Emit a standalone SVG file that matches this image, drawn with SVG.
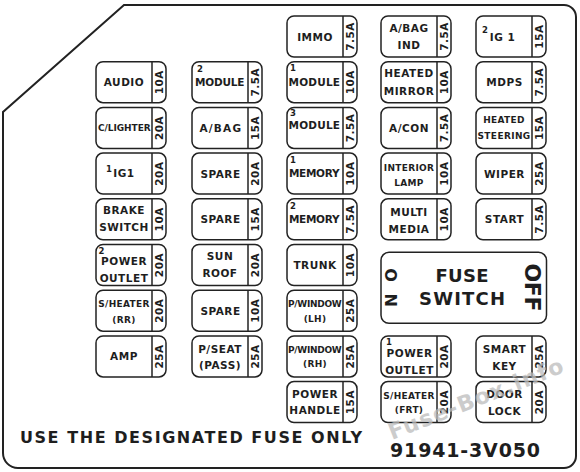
<svg xmlns="http://www.w3.org/2000/svg" width="580" height="472" viewBox="0 0 580 472">
<style>
.box{fill:#fff;stroke:#222;stroke-width:1.5}
.dv{stroke:#222;stroke-width:1.5}
text{font-family:"DejaVu Sans",sans-serif;font-weight:bold;fill:#1e1e1e}
.l{font-size:10.5px;letter-spacing:.5px;text-anchor:middle}
.s{font-size:9px;letter-spacing:.3px;text-anchor:middle}
.n{font-size:8.5px}
.a{font-size:10.5px;letter-spacing:.5px;text-anchor:middle}
</style>
<rect width="580" height="472" fill="#fff"/>
<path d="M124,5 H564 A12,12 0 0 1 576,17 V456 A12,12 0 0 1 564,468 H18 A15,15 0 0 1 3,453 V112 Z" fill="none" stroke="#222" stroke-width="2"/>

<!-- column 1 -->
<g id="f-audio" transform="translate(96,61.7)"><rect class="box" width="70" height="41" rx="7"/><line class="dv" x1="56" y1="0" x2="56" y2="41"/><text class="l" x="28" y="24.5">AUDIO</text><text class="a" transform="translate(63,20.5) rotate(-90)" y="3.8">10A</text></g>
<g id="f-clighter" transform="translate(96,107.4)"><rect class="box" width="70" height="41" rx="7"/><line class="dv" x1="56" y1="0" x2="56" y2="41"/><text class="s" x="28.5" y="24" textLength="53">C/LIGHTER</text><text class="a" transform="translate(63,20.5) rotate(-90)" y="3.8">20A</text></g>
<g id="f-ig1a" transform="translate(96,153.1)"><rect class="box" width="70" height="41" rx="7"/><line class="dv" x1="56" y1="0" x2="56" y2="41"/><text class="n" x="10" y="18.5">1</text><text class="l" x="28" y="23.5">IG1</text><text class="a" transform="translate(63,20.5) rotate(-90)" y="3.8">20A</text></g>
<g id="f-brake" transform="translate(96,198.8)"><rect class="box" width="70" height="41" rx="7"/><line class="dv" x1="56" y1="0" x2="56" y2="41"/><text class="l" x="28" y="15.5">BRAKE</text><text class="l" x="28" y="32.5">SWITCH</text><text class="a" transform="translate(63,20.5) rotate(-90)" y="3.8">10A</text></g>
<g id="f-power2" transform="translate(96,244.5)"><rect class="box" width="70" height="41" rx="7"/><line class="dv" x1="56" y1="0" x2="56" y2="41"/><text class="n" x="2.5" y="9">2</text><text class="l" x="28" y="20.5">POWER</text><text class="l" x="28" y="37">OUTLET</text><text class="a" transform="translate(63,20.5) rotate(-90)" y="3.8">20A</text></g>
<g id="f-sheater-rr" transform="translate(96,290.2)"><rect class="box" width="70" height="41" rx="7"/><line class="dv" x1="56" y1="0" x2="56" y2="41"/><text class="s" x="28" y="16.5">S/HEATER</text><text class="s" x="28" y="33">(RR)</text><text class="a" transform="translate(63,20.5) rotate(-90)" y="3.8">20A</text></g>
<g id="f-amp" transform="translate(96,335.9)"><rect class="box" width="70" height="41" rx="7"/><line class="dv" x1="56" y1="0" x2="56" y2="41"/><text class="l" x="28" y="24.5">AMP</text><text class="a" transform="translate(63,20.5) rotate(-90)" y="3.8">25A</text></g>

<!-- column 2 -->
<g id="f-module2" transform="translate(192,61.7)"><rect class="box" width="70" height="41" rx="7"/><line class="dv" x1="56" y1="0" x2="56" y2="41"/><text class="n" x="5" y="10.5">2</text><text class="l" x="28" y="24.5" textLength="50">MODULE</text><text class="a" transform="translate(63,20.5) rotate(-90)" y="3.8">7.5A</text></g>
<g id="f-abag" transform="translate(192,107.4)"><rect class="box" width="70" height="41" rx="7"/><line class="dv" x1="56" y1="0" x2="56" y2="41"/><text class="l" x="28.5" y="24.5" textLength="42">A/BAG</text><text class="a" transform="translate(63,20.5) rotate(-90)" y="3.8">15A</text></g>
<g id="f-spare1" transform="translate(192,153.1)"><rect class="box" width="70" height="41" rx="7"/><line class="dv" x1="56" y1="0" x2="56" y2="41"/><text class="l" x="28.5" y="24.5">SPARE</text><text class="a" transform="translate(63,20.5) rotate(-90)" y="3.8">20A</text></g>
<g id="f-spare2" transform="translate(192,198.8)"><rect class="box" width="70" height="41" rx="7"/><line class="dv" x1="56" y1="0" x2="56" y2="41"/><text class="l" x="28.5" y="24.5">SPARE</text><text class="a" transform="translate(63,20.5) rotate(-90)" y="3.8">15A</text></g>
<g id="f-sunroof" transform="translate(192,244.5)"><rect class="box" width="70" height="41" rx="7"/><line class="dv" x1="56" y1="0" x2="56" y2="41"/><text class="l" x="28" y="15.5">SUN</text><text class="l" x="28" y="32">ROOF</text><text class="a" transform="translate(63,20.5) rotate(-90)" y="3.8">20A</text></g>
<g id="f-spare3" transform="translate(192,290.2)"><rect class="box" width="70" height="41" rx="7"/><line class="dv" x1="56" y1="0" x2="56" y2="41"/><text class="l" x="28.5" y="25">SPARE</text><text class="a" transform="translate(63,20.5) rotate(-90)" y="3.8">10A</text></g>
<g id="f-pseat" transform="translate(192,335.9)"><rect class="box" width="70" height="41" rx="7"/><line class="dv" x1="56" y1="0" x2="56" y2="41"/><text class="l" x="28" y="16.8">P/SEAT</text><text class="l" x="28" y="33.5">(PASS)</text><text class="a" transform="translate(63,20.5) rotate(-90)" y="3.8">25A</text></g>

<!-- column 3 -->
<g id="f-immo" transform="translate(287,16)"><rect class="box" width="70" height="41" rx="7"/><line class="dv" x1="56" y1="0" x2="56" y2="41"/><text class="l" x="28" y="24.5">IMMO</text><text class="a" transform="translate(63,20.5) rotate(-90)" y="3.8">7.5A</text></g>
<g id="f-module1" transform="translate(287,61.7)"><rect class="box" width="70" height="41" rx="7"/><line class="dv" x1="56" y1="0" x2="56" y2="41"/><text class="n" x="3" y="9">1</text><text class="l" x="27.5" y="24.3" textLength="52">MODULE</text><text class="a" transform="translate(63,20.5) rotate(-90)" y="3.8">10A</text></g>
<g id="f-module3" transform="translate(287,107.4)"><rect class="box" width="70" height="41" rx="7"/><line class="dv" x1="56" y1="0" x2="56" y2="41"/><text class="n" x="3" y="9">3</text><text class="l" x="27.5" y="22" textLength="52">MODULE</text><text class="a" transform="translate(63,20.5) rotate(-90)" y="3.8">7.5A</text></g>
<g id="f-memory1" transform="translate(287,153.1)"><rect class="box" width="70" height="41" rx="7"/><line class="dv" x1="56" y1="0" x2="56" y2="41"/><text class="n" x="3" y="10">1</text><text class="l" x="27.5" y="24.2" textLength="51">MEMORY</text><text class="a" transform="translate(63,20.5) rotate(-90)" y="3.8">10A</text></g>
<g id="f-memory2" transform="translate(287,198.8)"><rect class="box" width="70" height="41" rx="7"/><line class="dv" x1="56" y1="0" x2="56" y2="41"/><text class="n" x="3" y="10.5">2</text><text class="l" x="27.5" y="24.5" textLength="51">MEMORY</text><text class="a" transform="translate(63,20.5) rotate(-90)" y="3.8">7.5A</text></g>
<g id="f-trunk" transform="translate(287,244.5)"><rect class="box" width="70" height="41" rx="7"/><line class="dv" x1="56" y1="0" x2="56" y2="41"/><text class="l" x="28" y="24.8">TRUNK</text><text class="a" transform="translate(63,20.5) rotate(-90)" y="3.8">10A</text></g>
<g id="f-pwindow-lh" transform="translate(287,290.2)"><rect class="box" width="70" height="41" rx="7"/><line class="dv" x1="56" y1="0" x2="56" y2="41"/><text class="s" x="28" y="16.5" textLength="54">P/WINDOW</text><text class="s" x="28" y="31.5">(LH)</text><text class="a" transform="translate(63,20.5) rotate(-90)" y="3.8">25A</text></g>
<g id="f-pwindow-rh" transform="translate(287,335.9)"><rect class="box" width="70" height="41" rx="7"/><line class="dv" x1="56" y1="0" x2="56" y2="41"/><text class="s" x="28" y="16.8" textLength="54">P/WINDOW</text><text class="s" x="28" y="31">(RH)</text><text class="a" transform="translate(63,20.5) rotate(-90)" y="3.8">25A</text></g>
<g id="f-powerhandle" transform="translate(287,381.6)"><rect class="box" width="70" height="41" rx="7"/><line class="dv" x1="56" y1="0" x2="56" y2="41"/><text class="l" x="28" y="16.7">POWER</text><text class="l" x="28" y="32.7">HANDLE</text><text class="a" transform="translate(63,20.5) rotate(-90)" y="3.8">15A</text></g>

<!-- column 4 -->
<g id="f-abagind" transform="translate(381,16)"><rect class="box" width="70" height="41" rx="7"/><line class="dv" x1="56" y1="0" x2="56" y2="41"/><text class="l" x="28" y="15.7">A/BAG</text><text class="l" x="28" y="33.3">IND</text><text class="a" transform="translate(63,20.5) rotate(-90)" y="3.8">7.5A</text></g>
<g id="f-heatedmirror" transform="translate(381,61.7)"><rect class="box" width="70" height="41" rx="7"/><line class="dv" x1="56" y1="0" x2="56" y2="41"/><text class="l" x="28" y="15">HEATED</text><text class="l" x="28" y="33">MIRROR</text><text class="a" transform="translate(63,20.5) rotate(-90)" y="3.8">10A</text></g>
<g id="f-acon" transform="translate(381,107.4)"><rect class="box" width="70" height="41" rx="7"/><line class="dv" x1="56" y1="0" x2="56" y2="41"/><text class="l" x="28" y="24.5">A/CON</text><text class="a" transform="translate(63,20.5) rotate(-90)" y="3.8">7.5A</text></g>
<g id="f-interior" transform="translate(381,153.1)"><rect class="box" width="70" height="41" rx="7"/><line class="dv" x1="56" y1="0" x2="56" y2="41"/><text class="s" x="28" y="17.6">INTERIOR</text><text class="s" x="28" y="33">LAMP</text><text class="a" transform="translate(63,20.5) rotate(-90)" y="3.8">10A</text></g>
<g id="f-multimedia" transform="translate(381,198.8)"><rect class="box" width="70" height="41" rx="7"/><line class="dv" x1="56" y1="0" x2="56" y2="41"/><text class="l" x="28" y="17.2">MULTI</text><text class="l" x="28" y="34.5">MEDIA</text><text class="a" transform="translate(63,20.5) rotate(-90)" y="3.8">10A</text></g>
<g id="fuse-switch" transform="translate(381,252.3)"><rect class="box" width="165.5" height="71" rx="8"/><text style="font-size:18px;text-anchor:middle" x="81" y="29.4" textLength="53">FUSE</text><text style="font-size:18px;text-anchor:middle" x="81" y="52.7" textLength="86">SWITCH</text><text style="font-size:16px;text-anchor:middle" transform="translate(9.7,35.2) rotate(90)" y="5.8" textLength="38.7">ON</text><text style="font-size:22px;text-anchor:middle" transform="translate(152,35.2) rotate(90)" y="8" textLength="48">OFF</text></g>
<g id="f-power1" transform="translate(381,335.9)"><rect class="box" width="70" height="41" rx="7"/><line class="dv" x1="56" y1="0" x2="56" y2="41"/><text class="n" x="5" y="9">1</text><text class="l" x="28.5" y="21.4">POWER</text><text class="l" x="28.5" y="38">OUTLET</text><text class="a" transform="translate(63,20.5) rotate(-90)" y="3.8">20A</text></g>
<g id="f-sheater-frt" transform="translate(381,381.6)"><rect class="box" width="70" height="41" rx="7"/><line class="dv" x1="56" y1="0" x2="56" y2="41"/><text class="s" x="28" y="17">S/HEATER</text><text class="s" x="28" y="31.7">(FRT)</text><text class="a" transform="translate(63,20.5) rotate(-90)" y="3.8">20A</text></g>

<!-- column 5 -->
<g id="f-ig1b" transform="translate(476,16)"><rect class="box" width="70" height="41" rx="7"/><line class="dv" x1="56" y1="0" x2="56" y2="41"/><text class="n" x="6" y="17">2</text><text class="l" x="26.5" y="24.5">IG 1</text><text class="a" transform="translate(63,20.5) rotate(-90)" y="3.8">15A</text></g>
<g id="f-mdps" transform="translate(476,61.7)"><rect class="box" width="70" height="41" rx="7"/><line class="dv" x1="56" y1="0" x2="56" y2="41"/><text class="l" x="28.5" y="24.5">MDPS</text><text class="a" transform="translate(63,20.5) rotate(-90)" y="3.8">7.5A</text></g>
<g id="f-heatedsteering" transform="translate(476,107.4)"><rect class="box" width="70" height="41" rx="7"/><line class="dv" x1="56" y1="0" x2="56" y2="41"/><text class="s" x="28" y="15.3">HEATED</text><text class="s" x="28" y="32" textLength="53">STEERING</text><text class="a" transform="translate(63,20.5) rotate(-90)" y="3.8">15A</text></g>
<g id="f-wiper" transform="translate(476,153.1)"><rect class="box" width="70" height="41" rx="7"/><line class="dv" x1="56" y1="0" x2="56" y2="41"/><text class="l" x="28.5" y="24.5">WIPER</text><text class="a" transform="translate(63,20.5) rotate(-90)" y="3.8">25A</text></g>
<g id="f-start" transform="translate(476,198.8)"><rect class="box" width="70" height="41" rx="7"/><line class="dv" x1="56" y1="0" x2="56" y2="41"/><text class="l" x="28.5" y="24.5">START</text><text class="a" transform="translate(63,20.5) rotate(-90)" y="3.8">7.5A</text></g>
<g id="f-smartkey" transform="translate(476,335.9)"><rect class="box" width="70" height="41" rx="7"/><line class="dv" x1="56" y1="0" x2="56" y2="41"/><text class="l" x="28.5" y="17.4">SMART</text><text class="l" x="28.5" y="34">KEY</text><text class="a" transform="translate(63,20.5) rotate(-90)" y="3.8">25A</text></g>
<g id="f-doorlock" transform="translate(476,381.6)"><rect class="box" width="70" height="41" rx="7"/><line class="dv" x1="56" y1="0" x2="56" y2="41"/><text class="l" x="28.5" y="16.7">DOOR</text><text class="l" x="28.5" y="33.4">LOCK</text><text class="a" transform="translate(63,20.5) rotate(-90)" y="3.8">20A</text></g>

<g id="connectors"/>

<g id="footer">
<text x="20" y="443.3" style="font-size:16px" textLength="342">USE THE DESIGNATED FUSE ONLY</text>
<text x="390" y="456.7" style="font-size:19px" textLength="150">91941-3V050</text>
</g>
<text id="watermark" transform="translate(392,440) rotate(-21.5)" style="font-size:22px;fill:#bcbcbc;opacity:.75" textLength="186">Fuse-Box.info</text>
</svg>
